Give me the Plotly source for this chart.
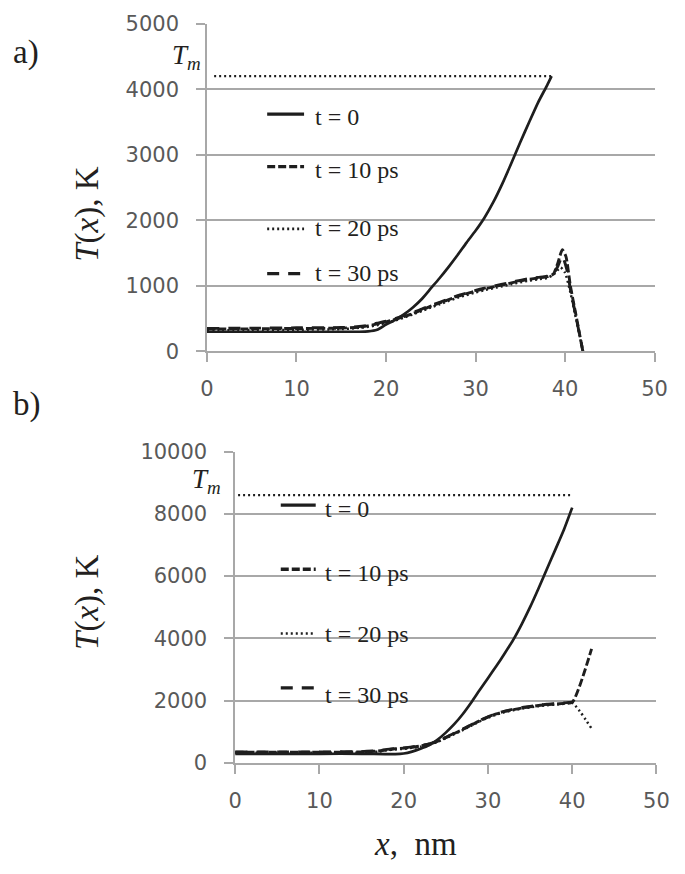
import plotly.graph_objects as go

# ---------------- data ----------------
# panel a)
xa_t0 = [0, 5, 10, 15, 17, 18, 19, 20, 21, 22, 23, 24, 25, 26, 27, 28, 29, 30, 31, 32, 33, 34, 35, 36, 37, 38, 38.5]
Ta_t0 = [300, 300, 300, 300, 300, 305, 330, 410, 480, 565, 670, 800, 960, 1120, 1290, 1470, 1660, 1840, 2040, 2280, 2560, 2870, 3190, 3500, 3800, 4060, 4200]

xa_dash = [0, 5, 10, 15, 17, 18, 19, 20, 21, 22, 23, 24, 25, 26, 27, 28, 29, 30, 31, 32, 33, 34, 35, 36, 37, 38, 38.7]
Ta_t10 = [340, 345, 350, 355, 370, 390, 420, 450, 490, 530, 580, 630, 690, 740, 790, 840, 880, 920, 955, 985, 1015, 1045, 1075, 1100, 1120, 1140, 1180]
Ta_t20 = [320, 325, 330, 340, 360, 375, 400, 435, 470, 515, 565, 615, 670, 720, 770, 820, 860, 900, 935, 965, 995, 1025, 1055, 1080, 1100, 1120, 1170]
Ta_t30 = [350, 355, 360, 365, 380, 400, 430, 460, 500, 545, 595, 645, 700, 750, 800, 850, 890, 930, 965, 995, 1025, 1055, 1085, 1110, 1130, 1150, 1190]
xa_t10_tail = [39.2, 39.7, 40.1, 40.6, 41.3, 42.0]
Ta_t10_tail = [1350, 1550, 1450, 1000, 500, 0]
xa_t20_tail = [39.5, 40.0, 40.6, 41.3, 42.0]
Ta_t20_tail = [1280, 1200, 900, 450, 0]
xa_t30_tail = [39.2, 39.7, 40.2, 40.6, 41.3, 42.0]
Ta_t30_tail = [1300, 1450, 1250, 950, 480, 0]

Tm_a = 4200
xm_a = [0.8, 38.5]

# panel b)
xb_t0 = [0, 5, 10, 15, 19, 20, 21, 22, 23, 24, 25, 26, 27, 28, 29, 30, 31, 32, 33, 34, 35, 36, 37, 38, 39, 40]
Tb_t0 = [290, 290, 290, 290, 280, 300, 360, 450, 560, 740, 970, 1240, 1560, 1930, 2330, 2720, 3110, 3520, 3950, 4450, 5000, 5600, 6230, 6850, 7480, 8200]

xb_dash = [0, 5, 10, 15, 17, 18, 19, 20, 21, 22, 23, 24, 25, 26, 27, 28, 29, 30, 31, 32, 33, 34, 35, 36, 37, 38, 39, 40]
Tb_t10 = [340, 340, 340, 350, 380, 420, 450, 470, 500, 540, 600, 690, 810, 940, 1070, 1210, 1350, 1470, 1570, 1650, 1710, 1760, 1800, 1840, 1870, 1890, 1910, 1940]
Tb_t20 = [320, 320, 320, 330, 360, 400, 430, 450, 480, 520, 580, 670, 790, 920, 1050, 1190, 1330, 1450, 1550, 1630, 1690, 1740, 1780, 1820, 1850, 1870, 1895, 1930]
Tb_t30 = [350, 350, 350, 360, 390, 430, 460, 480, 510, 550, 610, 700, 820, 950, 1080, 1220, 1360, 1480, 1580, 1660, 1720, 1770, 1810, 1850, 1880, 1900, 1920, 1950]
xb_t10_tail = [42.3]
Tb_t10_tail = [3660]
xb_t20_tail = [42.3]
Tb_t20_tail = [1100]

Tm_b = 8600
xm_b = [0.35, 40]

legend_labels = ["t = 0", "t = 10 ps", "t = 20 ps", "t = 30 ps"]
x_ticks = [0, 10, 20, 30, 40, 50]

# ---------------- styles ----------------
W, H = 685, 874
INK = "#1e1e1e"
GRID = "#a8a8a8"
TICKC = "#595959"
TXT = "#231f20"
styles = [
    dict(color=INK, width=2.7),
    dict(color=INK, width=2.9, dash="8px,3px"),
    dict(color=INK, width=2.5, dash="2px,3px"),
    dict(color=INK, width=2.9, dash="12px,9px"),
]


def px(v):
    return v / W


def py(v):
    return 1 - v / H


fig = go.Figure()


def add(x, y, st, xa, ya):
    fig.add_trace(go.Scatter(x=x, y=y, mode="lines", line=dict(shape="spline", smoothing=0.6, **st),
                             xaxis=xa, yaxis=ya, hoverinfo="skip"))


# panel a traces
add(xa_dash + xa_t20_tail, Ta_t20 + Ta_t20_tail, styles[2], "x", "y")
add(xa_dash + xa_t30_tail, Ta_t30 + Ta_t30_tail, styles[3], "x", "y")
add(xa_dash + xa_t10_tail, Ta_t10 + Ta_t10_tail, styles[1], "x", "y")
add(xa_t0, Ta_t0, styles[0], "x", "y")
fig.add_trace(go.Scatter(x=xm_a, y=[Tm_a, Tm_a], mode="lines", line=dict(color=INK, width=2.4, dash="2px,3px"),
                         xaxis="x", yaxis="y", hoverinfo="skip"))

# panel b traces
add(xb_dash + xb_t20_tail, Tb_t20 + Tb_t20_tail, styles[2], "x2", "y2")
add(xb_dash, Tb_t30, styles[3], "x2", "y2")
add(xb_dash + xb_t10_tail, Tb_t10 + Tb_t10_tail, styles[1], "x2", "y2")
add(xb_t0, Tb_t0, styles[0], "x2", "y2")
fig.add_trace(go.Scatter(x=xm_b, y=[Tm_b, Tm_b], mode="lines", line=dict(color=INK, width=2.4, dash="2px,3px"),
                         xaxis="x2", yaxis="y2", hoverinfo="skip"))

tickfont = dict(family="DejaVu Sans", size=21, color=TICKC)
xcommon = dict(range=[0, 50], tickvals=x_ticks, showgrid=False, zeroline=False, showline=True,
               linecolor=GRID, linewidth=1.5, ticks="outside", ticklen=9, tickwidth=1.5,
               tickcolor=GRID, tickfont=tickfont, ticklabelstandoff=9, fixedrange=True)
ycommon = dict(showgrid=True, gridcolor=GRID, gridwidth=1.5, zeroline=False, showline=True,
               linecolor=GRID, linewidth=1.5, ticks="outside", ticklen=9, tickwidth=1.5,
               tickcolor=GRID, tickfont=tickfont, tickformat="d", ticklabelstandoff=13, fixedrange=True)

fig.update_layout(
    width=W, height=H, margin=dict(l=0, r=0, t=0, b=0),
    paper_bgcolor="white", plot_bgcolor="white", showlegend=False,
    xaxis=dict(domain=[px(206), px(667)], anchor="y", **xcommon),
    yaxis=dict(domain=[py(349), py(12)], range=[0, 5000], dtick=1000, anchor="x", **ycommon),
    xaxis2=dict(domain=[px(235), px(669)], anchor="y2", **xcommon),
    yaxis2=dict(domain=[py(772), py(452)], range=[0, 10000], dtick=2000, anchor="x2", **ycommon),
)

shapes = []
# white legend backgrounds (above gridlines, below traces)
shapes.append(dict(type="rect", xref="paper", yref="paper", x0=px(237), x1=px(370), y0=py(290), y1=py(73),
                   fillcolor="white", line=dict(width=0), layer="between"))
shapes.append(dict(type="rect", xref="paper", yref="paper", x0=px(263), x1=px(428), y0=py(716), y1=py(503),
                   fillcolor="white", line=dict(width=0), layer="between"))

annotations = []
serif = "Liberation Serif"
leg_a_line_y = [105, 159, 223, 269]
leg_a_text_y = [108, 162, 222, 268]
leg_b_line_y = [507, 573, 639, 695]
leg_b_text_y = [511, 577, 640, 702]
for i, lab in enumerate(legend_labels):
    st = styles[i]
    ln = dict(color=st["color"], width=3.3 if i != 2 else 2.6)
    if "dash" in st:
        ln["dash"] = st["dash"]
    shapes.append(dict(type="line", xref="paper", yref="paper", x0=px(268), x1=px(306),
                       y0=py(leg_a_line_y[i]), y1=py(leg_a_line_y[i]), line=ln, layer="above"))
    shapes.append(dict(type="line", xref="paper", yref="paper", x0=px(282), x1=px(318),
                       y0=py(leg_b_line_y[i]), y1=py(leg_b_line_y[i]), line=ln, layer="above"))
    annotations.append(dict(text=lab, xref="paper", yref="paper", x=px(315), y=py(leg_a_text_y[i]),
                            xanchor="left", yanchor="middle", showarrow=False,
                            font=dict(family=serif, size=24, color=TXT)))
    annotations.append(dict(text=lab, xref="paper", yref="paper", x=px(326), y=py(leg_b_text_y[i]),
                            xanchor="left", yanchor="middle", showarrow=False,
                            font=dict(family=serif, size=24, color=TXT)))

# panel labels
annotations.append(dict(text="a)", xref="paper", yref="paper", x=px(4), y=py(42), xanchor="left", yanchor="middle",
                        showarrow=False, font=dict(family=serif, size=33, color=TXT)))
annotations.append(dict(text="b)", xref="paper", yref="paper", x=px(4), y=py(404), xanchor="left", yanchor="middle",
                        showarrow=False, font=dict(family=serif, size=33, color=TXT)))
# Tm labels
annotations.append(dict(text="<i>T</i><sub><i>m</i></sub>", xref="paper", yref="paper", x=px(169), y=py(46),
                        xanchor="left", yanchor="middle", showarrow=False, borderpad=0,
                        font=dict(family=serif, size=27, color=TXT)))
annotations.append(dict(text="<i>T</i><sub><i>m</i></sub>", xref="paper", yref="paper", x=px(190), y=py(482),
                        xanchor="left", yanchor="middle", showarrow=False, borderpad=0,
                        font=dict(family=serif, size=27, color=TXT)))
# axis titles
for yc in (208, 607):
    annotations.append(dict(text="<i>T</i>(<i>x</i>), K", xref="paper", yref="paper", x=px(83), y=py(yc),
                            xanchor="center", yanchor="middle", textangle=-90, showarrow=False,
                            font=dict(family=serif, size=33, color=TXT)))
annotations.append(dict(text="<i>x</i>,&nbsp; nm", xref="paper", yref="paper", x=px(421), y=py(855),
                        xanchor="center", yanchor="middle", showarrow=False,
                        font=dict(family=serif, size=33, color=TXT)))

fig.update_layout(shapes=shapes, annotations=annotations)
fig.write_html("out.html", config={"displayModeBar": False},
               post_script="document.documentElement.style.margin='0';document.body.style.margin='0';"
                           "document.body.style.padding='0';")
